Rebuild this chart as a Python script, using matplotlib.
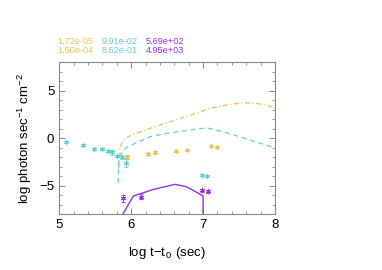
import matplotlib
matplotlib.use("Agg")
import matplotlib.pyplot as plt
from matplotlib.ticker import MultipleLocator

plt.rcParams["font.family"] = ["Liberation Sans", "DejaVu Sans"]
plt.rcParams["mathtext.fontset"] = "custom"
plt.rcParams["mathtext.rm"] = "Liberation Sans"
plt.rcParams["mathtext.it"] = "Liberation Sans"

YEL = "#e8c352"
CYA = "#66d0d0"
PUR = "#9a2fe6"

# observed points (log t, log flux, err)
cyan_x = [5.10, 5.33, 5.48, 5.59, 5.68, 5.74, 5.81, 5.87, 5.93, 6.99, 7.06]
cyan_y = [-0.42, -0.73, -1.10, -1.17, -1.33, -1.45, -1.85, -2.00, -2.57, -3.86, -3.97]
cyan_e = [0.1, 0.1, 0.1, 0.1, 0.15, 0.25, 0.15, 0.15, 0.4, 0.1, 0.1]

yel_x = [5.94, 6.23, 6.33, 6.63, 6.78, 7.11, 7.19]
yel_y = [-1.93, -1.65, -1.47, -1.34, -1.26, -0.81, -0.88]
yel_e = [0.2, 0.15, 0.15, 0.1, 0.1, 0.15, 0.1]

pur_x = [5.89, 6.13, 6.98, 7.07]
pur_y = [-6.32, -6.15, -5.47, -5.58]
pur_e = [0.4, 0.25, 0.15, 0.15]

# model curves
yel_mx = [5.83, 5.845, 5.88, 5.914, 6.03, 6.26, 6.54, 6.82, 7.10, 7.37, 7.58, 7.75, 7.91, 8.0]
yel_my = [-3.2, -1.0, -0.3, 0.0, 0.42, 1.05, 1.75, 2.45, 3.16, 3.58, 3.75, 3.68, 3.43, 3.16]

cya_mx = [5.82, 5.825, 5.86, 5.90, 5.946, 6.077, 6.26, 6.49, 6.72, 6.91, 7.05, 7.28, 7.51, 7.75, 8.0]
cya_my = [-4.7, -2.5, -1.6, -1.2, -0.9, -0.45, 0.17, 0.53, 0.77, 0.98, 1.11, 0.69, 0.17, -0.42, -0.99]

pur_mx = [5.86, 6.03, 6.31, 6.61, 6.77, 6.98, 7.0, 7.0]
pur_my = [-8.3, -6.07, -5.37, -4.84, -5.09, -5.97, -6.05, -8.3]

legend_rows = [["1.72e-05", "9.91e-02", "5.69e+02"],
               ["1.50e-04", "8.62e-01", "4.95e+03"]]

fig = plt.figure(figsize=(3.82, 2.70), dpi=100)
ax = fig.add_axes([0.155, 0.206, 0.565, 0.563])

ax.plot(yel_mx, yel_my, color=YEL, lw=0.9, dashes=(4, 2, 1, 2))
ax.plot(cya_mx, cya_my, color=CYA, lw=0.9, dashes=(4, 3))
ax.plot(pur_mx, pur_my, color=PUR, lw=1.0)

star = (6, 2, 0)
for xs, ys, es, c in [(cyan_x, cyan_y, cyan_e, CYA), (yel_x, yel_y, yel_e, YEL),
                      (pur_x, pur_y, pur_e, PUR)]:
    ax.errorbar(xs, ys, yerr=es, fmt="none", ecolor=c, elinewidth=0.6,
                capsize=1.5, capthick=0.6)
    ax.plot(xs, ys, ls="none", marker=star, ms=3.8, mec=c, mfc=c, mew=0.7)

ax.set_xlim(5, 8)
ax.set_ylim(-8, 8)
ax.xaxis.set_major_locator(MultipleLocator(1))
ax.xaxis.set_minor_locator(MultipleLocator(0.2))
ax.yaxis.set_major_locator(MultipleLocator(5))
ax.yaxis.set_minor_locator(MultipleLocator(1))
ax.tick_params(which="both", direction="in", top=True, right=True,
               color="#888888", labelsize=9.5)
ax.tick_params(which="major", length=4.5, width=0.7)
ax.tick_params(which="minor", length=2.5, width=0.6)
for sp in ax.spines.values():
    sp.set_color("#888888")
    sp.set_linewidth(0.8)

ax.set_xlabel("log t\u2212t$_{\\,0}$ (sec)", fontsize=9.5, labelpad=10)
ax.set_ylabel("log photon sec$^{-1}$ cm$^{-2}$", fontsize=9.5, labelpad=4)

cols = [YEL, CYA, PUR]
col_x = [57, 102, 146]
row_y = [41.5, 50.5]
for r, row in enumerate(legend_rows):
    for c, txt in enumerate(row):
        fig.text(col_x[c] / 382, 1 - row_y[r] / 270, txt, color=cols[c],
                 fontsize=6.6, ha="left", va="center")

fig.savefig("out.png", dpi=100)
